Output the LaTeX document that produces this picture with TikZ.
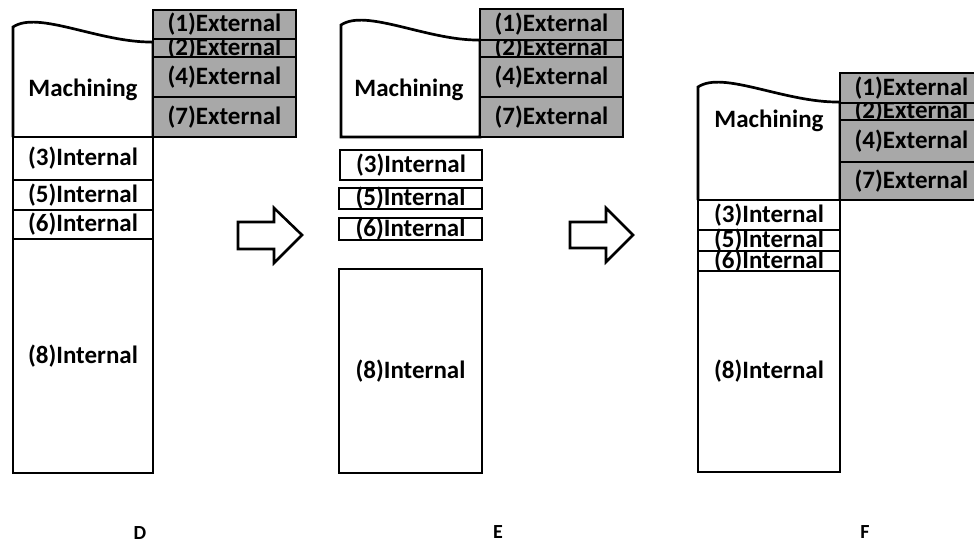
\documentclass[tikz,border=0pt]{standalone}
\usepackage{fontspec}
\setmainfont{Carlito}
\definecolor{extgray}{RGB}{168,168,168}
\newcommand\bxt[7]{%
  \path[#6] (#2,#3) rectangle (#4,#5);
  \node[lbl] (#1) at ({(#2+#4)/2},{(#3+#5)/2}) {#7};}
\begin{document}
\begin{tikzpicture}[x=1pt,y=-1pt,line width=2.7pt,
  lbl/.style={inner sep=0pt,font=\fontsize{25}{28}\selectfont\bfseries},
  extbox/.style={draw,fill=extgray},
  intbox/.style={draw},
  panel/.style={inner sep=0pt,font=\fontsize{20}{24}\selectfont\bfseries},
  blockarrow/.style={draw,line width=2.6pt,fill=white}]
\useasboundingbox (0,0) rectangle (974,544);
\clip (0,0) rectangle (974,544);

% ---------- Panel D ----------
\draw (13,137) -- (13,27) .. controls (38,10) and (100,43) .. (153,42) -- (153,137);
\node[lbl] (dm) at (83,90) {Machining};
\bxt{d2}{153}{39}{296}{57}{extbox}{(2)External}
\bxt{d1}{153}{10}{296}{39}{extbox}{(1)External}
\bxt{d4}{153}{57}{296}{97}{extbox}{(4)External}
\bxt{d7}{153}{97}{296}{137}{extbox}{(7)External}
\bxt{d3}{13}{137}{153}{180}{intbox}{(3)Internal}
\bxt{d5}{13}{180}{153}{210}{intbox}{(5)Internal}
\bxt{d6}{13}{210}{153}{239}{intbox}{(6)Internal}
\bxt{d8}{13}{239}{153}{473}{intbox}{(8)Internal}
\node[panel] (dl) at (140,533) {D};

% arrow D -> E
\path[blockarrow] (238,222) -- (274,222) -- (274,208) -- (302,235) -- (274,263) -- (274,249) -- (238,249) -- cycle;

% ---------- Panel E ----------
\draw (341,137) -- (341,25) .. controls (366,8) and (428,41) .. (480,40) -- (480,137) -- cycle;
\node[lbl] (em) at (409,90) {Machining};
\bxt{e2}{480}{40}{623}{57}{extbox}{(2)External}
\bxt{e1}{480}{9}{623}{40}{extbox}{(1)External}
\bxt{e4}{480}{57}{623}{97}{extbox}{(4)External}
\bxt{e7}{480}{97}{623}{137}{extbox}{(7)External}
\bxt{e3}{340}{150}{482}{180}{intbox}{(3)Internal}
\bxt{e5}{339}{188}{482}{209}{intbox}{(5)Internal}
\bxt{e6}{339}{218}{482}{240}{intbox}{(6)Internal}
\bxt{e8}{339}{269}{482}{473}{intbox}{(8)Internal}
\node[panel] (el) at (498,532) {E};

% arrow E -> F
\path[blockarrow] (570,222) -- (606,222) -- (606,208) -- (633,235) -- (606,262) -- (606,248) -- (570,248) -- cycle;

% ---------- Panel F ----------
\draw (698,200) -- (698,87) .. controls (723,70) and (785,103) .. (840,102) -- (840,200);
\node[lbl] (fm) at (769,121) {Machining};
\bxt{f2}{840}{103}{983}{120}{extbox}{(2)External}
\bxt{f1}{840}{73}{983}{103}{extbox}{(1)External}
\bxt{f4}{840}{120}{983}{162}{extbox}{(4)External}
\bxt{f7}{840}{162}{983}{200}{extbox}{(7)External}
\bxt{f3}{698}{200}{840}{230}{intbox}{(3)Internal}
\bxt{f5}{698}{230}{840}{251}{intbox}{(5)Internal}
\bxt{f6}{698}{251}{840}{271}{intbox}{(6)Internal}
\bxt{f8}{698}{271}{840}{472}{intbox}{(8)Internal}
\node[panel] (fl) at (865,532) {F};
\end{tikzpicture}
\end{document}
